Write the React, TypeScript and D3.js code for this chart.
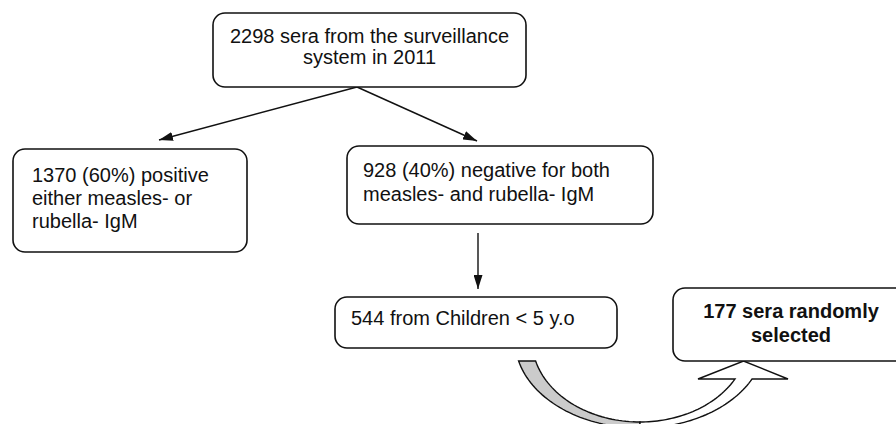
import React, { useEffect, useRef } from "react";
import { select, path } from "d3";

// box labels, one array per node
const sourceLines = ["2298 sera from the surveillance", "system in 2011"];
const positiveLines = ["1370 (60%) positive", "either measles- or", "rubella- IgM"];
const negativeLines = ["928 (40%) negative for both", "measles- and rubella- IgM"];
const childrenLines = ["544 from Children < 5 y.o"];
const selectedLines = ["177 sera randomly", "selected"];

const W = 896;
const H = 424;

// layout of the flow chart
const boxes = [
  { lines: sourceLines, x: 213, y: 13, w: 313, h: 74, align: "middle", tx: 369.5, ty: 43, lh: 21, bold: false },
  { lines: positiveLines, x: 13, y: 149, w: 234, h: 103, align: "start", tx: 32, ty: 182, lh: 23, bold: false },
  { lines: negativeLines, x: 347, y: 146, w: 306, h: 78, align: "start", tx: 363, ty: 177, lh: 24, bold: false },
  { lines: childrenLines, x: 335, y: 297, w: 282, h: 51, align: "start", tx: 351, ty: 325, lh: 24, bold: false },
  { lines: selectedLines, x: 673, y: 288, w: 240, h: 73, align: "middle", tx: 791, ty: 318, lh: 24, bold: true },
];

const arrows = [
  { x1: 357, y1: 87, x2: 159, y2: 140 },
  { x1: 357, y1: 87, x2: 477, y2: 141 },
  { x1: 478, y1: 233, x2: 478, y2: 289 },
];

function ellipsePts(cx, cy, rx, ry, a0, a1, n = 40) {
  const pts = [];
  for (let i = 0; i <= n; i++) {
    const a = a0 + ((a1 - a0) * i) / n;
    pts.push([cx + rx * Math.cos(a), cy + ry * Math.sin(a)]);
  }
  return pts;
}

function Flow() {
  const ref = useRef(null);

  useEffect(() => {
    const svg = select(ref.current);
    svg.selectAll("*").remove();

    svg
      .append("defs")
      .append("marker")
      .attr("id", "head")
      .attr("viewBox", "0 0 14 9")
      .attr("refX", 14)
      .attr("refY", 4.5)
      .attr("markerUnits", "userSpaceOnUse")
      .attr("markerWidth", 14)
      .attr("markerHeight", 9)
      .attr("orient", "auto")
      .append("path")
      .attr("d", "M0,0 L14,4.5 L0,9 Z")
      .attr("fill", "#111");

    svg
      .append("rect")
      .attr("width", W)
      .attr("height", H)
      .attr("fill", "#fff");

    // curved "up" arrow
    const cx = 640,
      cy = 340;
    const outer = { rx: 125, ry: 88 };
    const inner = { rx: 108, ry: 82 };
    const aTopOuter = Math.PI - Math.asin((361 - cy) / outer.ry);
    const aTopInner = Math.PI - Math.asin((361 - cy) / inner.ry);
    const aRightOuter = Math.asin((379 - cy) / outer.ry);
    const aRightInner = Math.asin((379 - cy) / inner.ry);

    const gray = path();
    const go = ellipsePts(cx, cy, outer.rx, outer.ry, aTopOuter, Math.PI / 2);
    const gi = ellipsePts(cx, cy, inner.rx, inner.ry, Math.PI / 2, aTopInner);
    go.forEach((p, i) => (i ? gray.lineTo(p[0], p[1]) : gray.moveTo(p[0], p[1])));
    gi.forEach((p) => gray.lineTo(p[0], p[1]));
    gray.closePath();
    svg
      .append("path")
      .attr("d", gray.toString())
      .attr("fill", "#cbcbcb")
      .attr("stroke", "#111")
      .attr("stroke-width", 1.4);

    const white = path();
    const wo = ellipsePts(cx, cy, outer.rx, outer.ry, Math.PI / 2, aRightOuter);
    const wi = ellipsePts(cx, cy, inner.rx, inner.ry, aRightInner, Math.PI / 2);
    wo.forEach((p, i) => (i ? white.lineTo(p[0], p[1]) : white.moveTo(p[0], p[1])));
    const ob = wo[wo.length - 1];
    const ib = wi[0];
    white.lineTo(788, 379);
    white.lineTo((ob[0] + ib[0]) / 2, 361);
    white.lineTo(698, 379);
    white.lineTo(ib[0], ib[1]);
    wi.forEach((p) => white.lineTo(p[0], p[1]));
    white.closePath();
    svg
      .append("path")
      .attr("d", white.toString())
      .attr("fill", "#fff")
      .attr("stroke", "#111")
      .attr("stroke-width", 1.4)
      .attr("stroke-linejoin", "miter");

    // straight arrows
    svg
      .selectAll("line.arrow")
      .data(arrows)
      .join("line")
      .attr("class", "arrow")
      .attr("x1", (d) => d.x1)
      .attr("y1", (d) => d.y1)
      .attr("x2", (d) => d.x2)
      .attr("y2", (d) => d.y2)
      .attr("stroke", "#111")
      .attr("stroke-width", 1.4)
      .attr("marker-end", "url(#head)");

    // boxes
    const g = svg.selectAll("g.box").data(boxes).join("g").attr("class", "box");
    g.append("rect")
      .attr("x", (d) => d.x)
      .attr("y", (d) => d.y)
      .attr("width", (d) => d.w)
      .attr("height", (d) => d.h)
      .attr("rx", 12)
      .attr("fill", "#fff")
      .attr("stroke", "#111")
      .attr("stroke-width", 1.6);

    g.each(function (d) {
      const t = select(this)
        .append("text")
        .attr("font-family", "'Liberation Sans', Arial, sans-serif")
        .attr("font-size", 20)
        .attr("font-weight", d.bold ? "bold" : "normal")
        .attr("fill", "#111")
        .attr("text-anchor", d.align);
      d.lines.forEach((line, i) => {
        t.append("tspan")
          .attr("x", d.tx)
          .attr("y", d.ty + i * d.lh)
          .text(line);
      });
    });
  }, []);

  return <svg ref={ref} width={W} height={H} style={{ position: "absolute", left: 0, top: 0 }} />;
}

export default function App() {
  return <Flow />;
}
